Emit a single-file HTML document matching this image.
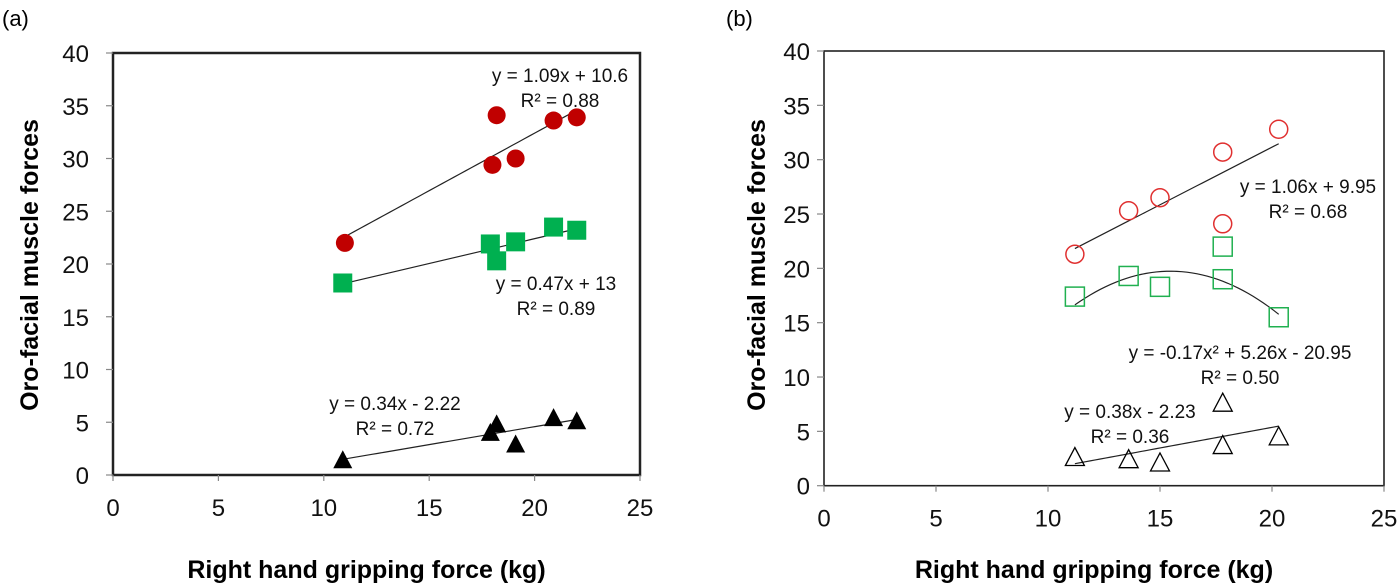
<!DOCTYPE html>
<html><head><meta charset="utf-8">
<style>
html,body{margin:0;padding:0;background:#fff;}
svg{display:block;font-family:"Liberation Sans",Arial,sans-serif;}
</style></head>
<body>
<svg id="chart" width="1400" height="588" viewBox="0 0 1400 588"></svg>
<script>
// ---- Panel (a) data ----
const aRedX=[11,18,18.2,19.1,20.9,22];
const aRedY=[22,29.4,34.1,30,33.6,33.9];
const aGreenX=[10.9,17.9,18.2,19.1,20.9,22];
const aGreenY=[18.2,21.9,20.3,22.1,23.5,23.2];
const aBlackX=[10.9,17.9,18.2,19.1,20.9,22];
const aBlackY=[1.3,3.9,4.7,2.8,5.3,5.0];
// ---- Panel (b) data ----
const bRedX=[11.2,13.6,15,17.8,17.8,20.3];
const bRedY=[21.3,25.3,26.5,30.7,24.1,32.8];
const bGreenX=[11.2,13.6,15,17.8,17.8,20.3];
const bGreenY=[17.4,19.3,18.3,22,19,15.5];
const bBlackX=[11.2,13.6,15,17.8,17.8,20.3];
const bBlackY=[2.5,2.3,2,7.5,3.6,4.4];
const xTicks=[0,5,10,15,20,25];
const yTicks=[0,5,10,15,20,25,30,35,40];

const NS='http://www.w3.org/2000/svg';
const svg=document.getElementById('chart');
function mk(tag,attrs,parent,text){
  const e=document.createElementNS(NS,tag);
  for(const k in attrs)e.setAttribute(k,attrs[k]);
  if(text!==undefined)e.textContent=text;
  (parent||svg).appendChild(e);return e;
}

function panel(p){
  const g=mk('g',{});
  
  
  const sx=v=>p.x0+(p.x1-p.x0)*v/25;
  const sy=v=>p.y0-(p.y0-p.y1)*v/40;
  const t=mk('text',{x:p.lx,y:26,'font-size':22},g,p.label);
  
  
  const box=mk('rect',{x:p.x0,y:p.y1,width:p.x1-p.x0,height:p.y0-p.y1,fill:'none',stroke:'#222','stroke-width':p.bw},g);
  
  
  yTicks.forEach(v=>{
    mk('line',{x1:p.x0-7,x2:p.x0,y1:sy(v),y2:sy(v),stroke:'#888','stroke-width':1.2},g);
    const l=mk('text',{x:p.x0-p.yoff,y:sy(v)+9,'font-size':24,'text-anchor':'end',fill:'#111'},g,v);
    
    
  });
  xTicks.forEach(v=>{
    mk('line',{x1:sx(v),x2:sx(v),y1:p.y0,y2:p.y0+6,stroke:'#888','stroke-width':1.2},g);
    const l=mk('text',{x:sx(v),y:p.y0+41,'font-size':24,'text-anchor':'middle',fill:'#111'},g,v);
    
    
  });
  const xt=mk('text',{x:(p.x0+p.x1)/2-10,y:578,'font-size':25,'font-weight':'bold','text-anchor':'middle'},g,'Right hand gripping force (kg)');
  
  
  const yt=mk('text',{x:0,y:0,'font-size':25,'font-weight':'bold','text-anchor':'middle',transform:`translate(${p.ytx},${p.yty}) rotate(-90)`},g,p.ytitle);
  
  
  p.fits.forEach(f=>{
    let d='';
    for(let i=0;i<=40;i++){const x=f.from+(f.to-f.from)*i/40;const y=f.c[0]*x*x+f.c[1]*x+f.c[2];d+=(i?'L':'M')+sx(x)+' '+sy(y);}
    const pl=mk('path',{d:d,fill:'none',stroke:'#222','stroke-width':1.2},g);
    
    
    f.text.forEach((s,i)=>{
      const tt=mk('text',{x:f.tx,y:f.ty+i*25,'font-size':19,'text-anchor':'middle',fill:'#111'},g,s);
      
      
    });
  });
  p.series.forEach(s=>{
    s.xs.forEach((xv,i)=>{
      const cx=sx(xv),cy=sy(s.ys[i]);let m;
      if(s.shape==='circle')m=mk('circle',{cx:cx,cy:cy,r:9,fill:p.filled?s.color:'none',stroke:s.color,'stroke-width':p.filled?0:1.5},g);
      else if(s.shape==='square')m=mk('rect',{x:cx-9.5,y:cy-9.5,width:19,height:19,fill:p.filled?s.color:'none',stroke:s.color,'stroke-width':p.filled?0:1.5},g);
      else m=mk('polygon',{points:`${cx},${cy-11} ${cx-9.5},${cy+7} ${cx+9.5},${cy+7}`,fill:p.filled?s.color:'none',stroke:s.color,'stroke-width':p.filled?0:1.3},g);
      
      
    });
  });
}

panel({name:'panel-a',label:'(a)',lx:2,x0:113,x1:640,y0:475,y1:53,bw:2.5,filled:true,yoff:24,
  ytitle:'Oro-facial muscle  forces',ytx:38,yty:265,
  fits:[
    {c:[0,1.09,10.6],from:10.9,to:22,tx:560,ty:82,text:['y = 1.09x + 10.6','R² = 0.88']},
    {c:[0,0.47,13],from:10.9,to:22,tx:556,ty:290,text:['y = 0.47x + 13','R² = 0.89']},
    {c:[0,0.34,-2.22],from:10.9,to:22,tx:395,ty:410,text:['y = 0.34x - 2.22','R² = 0.72']}],
  series:[
    {name:'point-red',shape:'circle',color:'#c00000',xs:aRedX,ys:aRedY},
    {name:'point-green',shape:'square',color:'#00b050',xs:aGreenX,ys:aGreenY},
    {name:'point-black',shape:'triangle',color:'#000',xs:aBlackX,ys:aBlackY}]});

panel({name:'panel-b',label:'(b)',lx:726,x0:824,x1:1384,y0:485.7,y1:51,bw:1.6,filled:false,yoff:14,
  ytitle:'Oro-facial muscle forces',ytx:765,yty:265,
  fits:[
    {c:[0,1.06,9.95],from:11.2,to:20.3,tx:1308,ty:193,text:['y = 1.06x + 9.95','R² = 0.68']},
    {c:[-0.17,5.26,-20.95],from:11.2,to:20.3,tx:1240,ty:359,text:['y = -0.17x² + 5.26x - 20.95','R² = 0.50']},
    {c:[0,0.38,-2.23],from:11.2,to:20.3,tx:1130,ty:418,text:['y = 0.38x - 2.23','R² = 0.36']}],
  series:[
    {name:'point-red',shape:'circle',color:'#e03030',xs:bRedX,ys:bRedY},
    {name:'point-green',shape:'square',color:'#20b050',xs:bGreenX,ys:bGreenY},
    {name:'point-black',shape:'triangle',color:'#000',xs:bBlackX,ys:bBlackY}]});
</script>
</body></html>
